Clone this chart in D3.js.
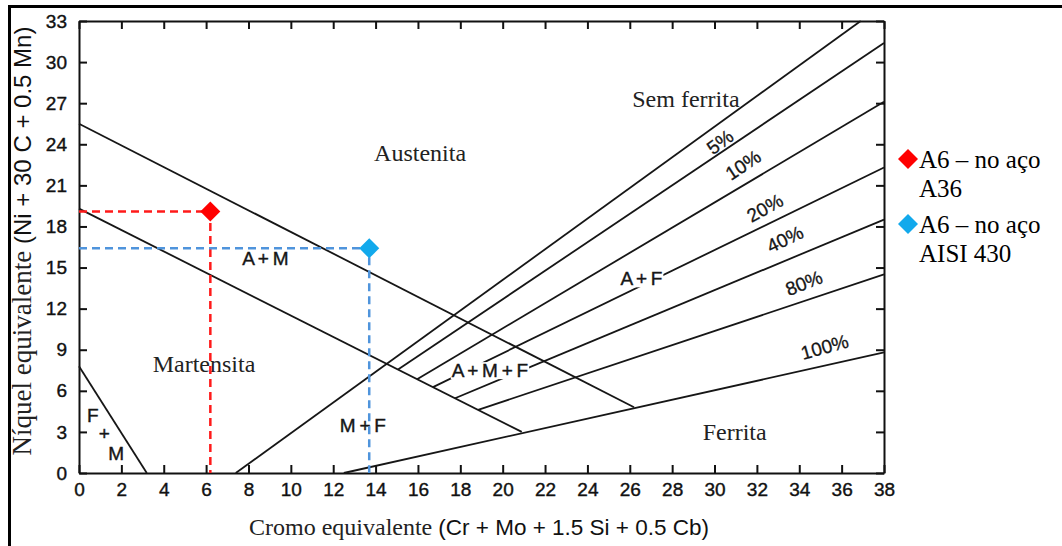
<!DOCTYPE html>
<html><head><meta charset="utf-8">
<script src="https://cdn.jsdelivr.net/npm/d3@7"></script>
<style>body{margin:0;background:#fff} svg{display:block}</style>
</head><body>
<svg id="c" width="1062" height="546"></svg>
<script>
// ---- data (diagram coordinates: Cr-equivalent, Ni-equivalent) ----
const xTickValues = d3.range(0, 39, 2);
const yTickValues = d3.range(0, 34, 3);

const austeniteBoundary = [[0, 25.5], [26.2, 4.8]];
const martensiteBoundary = [[0, 19.3], [20.9, 3.0]];
const fmBoundary = [[0, 7.8], [3.2, 0]];
const ferrite0 = [[7.4, 0], [36.9, 33]];
const ferrite5 = [[15.06, 7.55], [38, 31.4]];
const ferrite10 = [[15.96, 6.85], [38, 27.1]];
const ferrite20 = [[16.71, 6.27], [38, 22.3]];
const ferrite40 = [[17.75, 5.46], [38, 18.5]];
const ferrite80 = [[18.84, 4.61], [38, 14.5]];
const ferrite100 = [[12.5, 0], [38, 8.8]];

const percentLabels = ["5%", "10%", "20%", "40%", "80%", "100%"];
const percentLabelX = [30.26, 31.35, 32.38, 33.33, 34.22, 35.2];
const percentLabelY = [24.17, 22.49, 19.35, 17.08, 13.87, 9.2];

const serifRegions = ["Sem ferrita", "Austenita", "Martensita", "Ferrita"];
const serifRegionX = [28.65, 16.1, 5.9, 30.95];
const serifRegionY = [26.7, 22.8, 7.4, 2.4];

const sansRegions = ["A + M", "M + F", "A + M + F", "A + F", "F", "+", "M"];
const sansRegionX = [8.8, 13.4, 19.4, 26.55, 0.65, 1.2, 1.75];
const sansRegionY = [15.2, 3.0, 7.0, 13.7, 3.7, 2.4, 0.95];

const pointNames = ["A6 – no aço", "A6 – no aço"];
const pointNames2 = ["A36", "AISI 430"];
const pointCr = [6.2, 13.7];
const pointNi = [19.1, 16.4];

// ---- layout ----
const svg = d3.select("#c");
const x = d3.scaleLinear().domain([0, 38]).range([79, 884]);
const y = d3.scaleLinear().domain([0, 33]).range([473, 21]);
const SANS = "'Liberation Sans', Arial, Helvetica, sans-serif";
const SERIF = "'Liberation Serif', 'Times New Roman', serif";

// outer frame (top and left edges visible)
svg.append("path").attr("d", "M9.5,546 L9.5,6.5 L1062,6.5")
  .attr("fill", "none").attr("stroke", "#000").attr("stroke-width", 3);

// axes
function styleAxis(g) {
  g.selectAll(".domain").attr("stroke", "#111").attr("stroke-width", 2);
  g.selectAll(".tick line").attr("stroke", "#111").attr("stroke-width", 2);
  g.selectAll("text").attr("font-family", SANS).attr("font-size", 19).attr("fill", "#111")
    .attr("stroke", "#111").attr("stroke-width", 0.4);
}
svg.append("g").attr("transform", `translate(0,${y(0)})`)
  .call(d3.axisBottom(x).tickValues(xTickValues).tickSizeInner(-8).tickSizeOuter(0).tickPadding(10).tickFormat(d3.format("d")))
  .call(styleAxis);
svg.append("g").attr("transform", `translate(0,${y(33)})`)
  .call(d3.axisTop(x).tickValues(xTickValues).tickSizeInner(-8).tickSizeOuter(0).tickFormat(""))
  .call(styleAxis);
svg.append("g").attr("transform", `translate(${x(0)},0)`)
  .call(d3.axisLeft(y).tickValues(yTickValues).tickSizeInner(-8).tickSizeOuter(0).tickPadding(12).tickFormat(d3.format("d")))
  .call(styleAxis);
svg.append("g").attr("transform", `translate(${x(38)},0)`)
  .call(d3.axisRight(y).tickValues(yTickValues).tickSizeInner(-8).tickSizeOuter(0).tickFormat(""))
  .call(styleAxis);

// phase boundary lines
const line = d3.line().x(d => x(d[0])).y(d => y(d[1]));
const boundaries = [austeniteBoundary, martensiteBoundary, fmBoundary, ferrite0,
  ferrite5, ferrite10, ferrite20, ferrite40, ferrite80, ferrite100];
svg.append("g").selectAll("path").data(boundaries).join("path")
  .attr("d", line).attr("fill", "none").attr("stroke", "#161616").attr("stroke-width", 1.8);

// percent labels, rotated along the ferrite lines
const ferriteLines = [ferrite5, ferrite10, ferrite20, ferrite40, ferrite80, ferrite100];
svg.append("g").selectAll("text").data(percentLabels).join("text")
  .attr("transform", (d, i) => {
    const l = ferriteLines[i];
    const ang = Math.atan2(y(l[1][1]) - y(l[0][1]), x(l[1][0]) - x(l[0][0])) * 180 / Math.PI;
    return `translate(${x(percentLabelX[i])},${y(percentLabelY[i])}) rotate(${ang - 3})`;
  })
  .attr("text-anchor", "middle").attr("dy", "0.35em")
  .attr("font-family", SANS).attr("font-size", 19).attr("fill", "#161616")
  .attr("stroke", "#161616").attr("stroke-width", 0.3)
  .text(d => d);

// region labels
svg.append("g").selectAll("text").data(serifRegions).join("text")
  .attr("x", (d, i) => x(serifRegionX[i])).attr("y", (d, i) => y(serifRegionY[i]))
  .attr("text-anchor", "middle").attr("font-family", SERIF).attr("font-size", 24).attr("fill", "#222")
  .text(d => d);
const sansG = svg.append("g");
sansRegions.forEach((d, i) => {
  const g = sansG.append("g");
  const rect = g.append("rect").attr("fill", "#fff");
  const t = g.append("text")
    .attr("x", x(sansRegionX[i])).attr("y", y(sansRegionY[i]))
    .attr("text-anchor", "middle").attr("font-family", SANS).attr("font-size", 19)
    .attr("word-spacing", -1.5)
    .attr("fill", "#161616").attr("stroke", "#161616").attr("stroke-width", 0.4)
    .text(d);
  const b = t.node().getBBox();
  rect.attr("x", b.x - 1).attr("y", b.y + 2).attr("width", b.width + 2).attr("height", b.height - 4);
});

// points with dashed guides
const ptColors = ["#ff0000", "#12a9ec"];
const guideColors = ["#ff1a1a", "#4f94dc"];
const pts = d3.range(pointCr.length);
svg.append("g").selectAll("path").data(pts).join("path")
  .attr("d", i => `M${x(0)},${y(pointNi[i])} H${x(pointCr[i])} V${y(0)}`)
  .attr("fill", "none").attr("stroke", i => guideColors[i]).attr("stroke-width", 2.5)
  .attr("stroke-dasharray", "8,5");
const diamond = d3.symbol().type(d3.symbolSquare).size(200);
svg.append("g").selectAll("path").data(pts).join("path")
  .attr("d", diamond)
  .attr("transform", i => `translate(${x(pointCr[i])},${y(pointNi[i])}) rotate(45)`)
  .attr("fill", i => ptColors[i]);

// legend
const lg = svg.append("g");
pts.forEach(i => {
  const cy = 159 + i * 65;
  lg.append("path").attr("d", diamond).attr("transform", `translate(908,${cy}) rotate(45)`).attr("fill", ptColors[i]);
  lg.append("text").attr("x", 919).attr("y", cy + 9).attr("font-family", SERIF).attr("font-size", 25).attr("fill", "#000").text(pointNames[i]);
  lg.append("text").attr("x", 919).attr("y", cy + 38).attr("font-family", SERIF).attr("font-size", 25).attr("fill", "#000").text(pointNames2[i]);
});

// axis titles
const xt = svg.append("text").attr("x", 479).attr("y", 535).attr("text-anchor", "middle").attr("fill", "#222");
xt.append("tspan").attr("font-family", SERIF).attr("font-size", 24).text("Cromo equivalente ");
xt.append("tspan").attr("font-family", SANS).attr("font-size", 22.5).attr("fill", "#111").text("(Cr + Mo + 1.5 Si + 0.5 Cb)");

const yt = svg.append("text").attr("transform", "translate(31,241) rotate(-90)").attr("text-anchor", "middle").attr("fill", "#222");
yt.append("tspan").attr("font-family", SERIF).attr("font-size", 27).text("Níquel equivalente ");
yt.append("tspan").attr("font-family", SANS).attr("font-size", 24).attr("fill", "#111").text("(Ni + 30 C + 0.5 Mn)");
</script>
</body></html>
